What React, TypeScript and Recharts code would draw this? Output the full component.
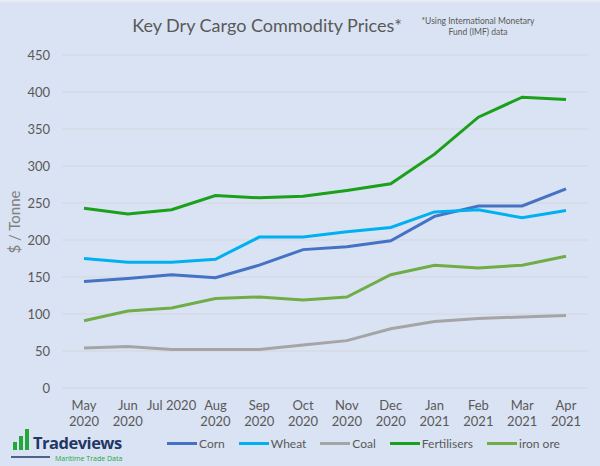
import React from "react";
import { LineChart, Line, XAxis, YAxis, CartesianGrid } from "recharts";

const months = ["May 2020", "Jun 2020", "Jul 2020", "Aug 2020", "Sep 2020", "Oct 2020", "Nov 2020", "Dec 2020", "Jan 2021", "Feb 2021", "Mar 2021", "Apr 2021"];
const corn = [144, 148, 153, 149, 166, 187, 191, 199, 232, 246, 246, 269];
const wheat = [175, 170, 170, 174, 204, 204, 211, 217, 238, 241, 230, 240];
const coal = [54, 56, 52, 52, 52, 58, 64, 80, 90, 94, 96, 98];
const fertilisers = [243, 235, 241, 260, 257, 259, 267, 276, 316, 366, 393, 390];
const ironOre = [91, 104, 108, 121, 123, 119, 123, 153, 166, 162, 166, 178];
const yTicks = [0, 50, 100, 150, 200, 250, 300, 350, 400, 450];

const series = [
  { key: "corn", name: "Corn", color: "#4472C4", values: corn },
  { key: "wheat", name: "Wheat", color: "#00B0F0", values: wheat },
  { key: "coal", name: "Coal", color: "#A5A5A5", values: coal },
  { key: "fert", name: "Fertilisers", color: "#1AA01A", values: fertilisers },
  { key: "iron", name: "iron ore", color: "#70AD47", values: ironOre },
];

const data = months.map((m, i) => {
  const row: any = { month: m };
  series.forEach((s) => (row[s.key] = s.values[i]));
  return row;
});

const FONT = "Lato, 'Open Sans', sans-serif";

const XTick = (props: any) => {
  const { x, y, payload } = props;
  const label: string = payload.value;
  const lines = label === "Jul 2020" ? [label] : label.split(" ");
  return (
    <text x={x} y={y} textAnchor="middle" fill="#595959" fontSize={13} fontFamily={FONT}>
      {lines.map((l, i) => (
        <tspan key={i} x={x} dy={i === 0 ? 14 : 16}>
          {l}
        </tspan>
      ))}
    </text>
  );
};

export default function App() {
  return (
    <div style={{ position: "absolute", left: 0, top: 0, width: 600, height: 466, background: "#DAE3F3", fontFamily: FONT, overflow: "hidden", boxSizing: "border-box", borderTop: "2px solid #E8ECF2" }}>
      <div style={{ position: "absolute", left: 0, top: 0 }}>
        <LineChart width={600} height={466} data={data} margin={{ top: 53, right: 12, bottom: 30, left: 0 }}>
          <CartesianGrid vertical={false} stroke="#D3D6DC" strokeWidth={1} />
          <XAxis dataKey="month" axisLine={false} tickLine={false} height={50} interval={0} tick={<XTick />} padding={{ left: 22, right: 22 }} />
          <YAxis domain={[0, 450]} ticks={yTicks} width={62} axisLine={false} tickLine={false} tickSize={0} tickMargin={12} tick={{ fill: "#595959", fontSize: 13, fontFamily: FONT }} />
          {series.map((s) => (
            <Line key={s.key} dataKey={s.key} name={s.name} stroke={s.color} strokeWidth={3} dot={false} isAnimationActive={false} type="linear" />
          ))}
        </LineChart>
      </div>
      <div style={{ position: "absolute", left: 0, width: 534, top: 12, textAlign: "center", fontSize: 18, color: "#595959" }}>
        Key Dry Cargo Commodity Prices*
      </div>
      <div style={{ position: "absolute", left: 418, width: 120, top: 14, textAlign: "center", fontSize: 8.5, lineHeight: "11px", color: "#595959" }}>
        *Using International Monetary Fund (IMF) data
      </div>
      <div style={{ position: "absolute", left: 14, top: 220, transform: "translate(-50%, -50%) rotate(-90deg)", whiteSpace: "nowrap", fontSize: 15, color: "#808080" }}>
        $ / Tonne
      </div>
      <div style={{ position: "absolute", left: 167, top: 434, display: "flex", alignItems: "center", fontSize: 12, color: "#595959", whiteSpace: "nowrap" }}>
        {series.map((s) => (
          <div key={s.key} style={{ display: "flex", alignItems: "center", marginRight: 14 }}>
            <div style={{ width: 30, height: 3, background: s.color, marginRight: 2 }} />
            <span>{s.name}</span>
          </div>
        ))}
      </div>
      <div style={{ position: "absolute", left: 10, top: 427 }}>
        <svg width={120} height={36}>
          <rect x={3} y={13} width={4} height={8} fill="#22A83A" />
          <rect x={9} y={7} width={4} height={14} fill="#22A83A" />
          <rect x={15} y={0} width={4} height={21} fill="#22A83A" />
          <text x={23} y={20} fontFamily="'Open Sans', sans-serif" fontWeight={700} fontSize={16.5} fill="#1F3864" letterSpacing={-0.5}>Tradeviews</text>
          <line x1={1} y1={28} x2={40} y2={28} stroke="#1F3864" strokeWidth={1.5} />
          <text x={45} y={32} fontFamily="'Open Sans', sans-serif" fontSize={7} fill="#22A83A">Maritime Trade Data</text>
        </svg>
      </div>
    </div>
  );
}
